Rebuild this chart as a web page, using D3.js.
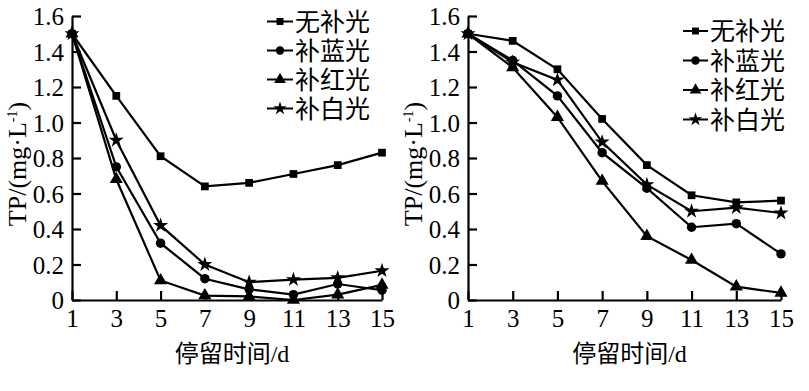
<!DOCTYPE html>
<html><head><meta charset="utf-8">
<script src="https://cdn.jsdelivr.net/npm/d3@7"></script>
<style>body{margin:0;background:#fff}svg{display:block}</style>
</head><body>
<script>
const days = [1,3,5,7,9,11,13,15];
const seriesNames = ["无补光","补蓝光","补红光","补白光"];
const yTicks = [0,0.2,0.4,0.6,0.8,1.0,1.2,1.4,1.6];
const yTickLabels = ["0","0.2","0.4","0.6","0.8","1.0","1.2","1.4","1.6"];
const xTicks = [1,3,5,7,9,11,13,15];
const leftNone  = [1.50,1.15,0.81,0.64,0.66,0.71,0.76,0.83];
const leftBlue  = [1.50,0.75,0.32,0.12,0.06,0.03,0.09,0.055];
const leftRed   = [1.50,0.68,0.11,0.025,0.02,0.0,0.03,0.085];
const leftWhite = [1.50,0.90,0.42,0.20,0.10,0.115,0.125,0.165];
const rightNone  = [1.50,1.46,1.30,1.02,0.76,0.59,0.55,0.56];
const rightBlue  = [1.50,1.35,1.15,0.83,0.63,0.41,0.43,0.26];
const rightRed   = [1.50,1.31,1.03,0.67,0.36,0.225,0.075,0.04];
const rightWhite = [1.50,1.34,1.24,0.89,0.65,0.50,0.52,0.49];
const yLabel = "TP/(mg·L";
const xLabel = "停留时间/d";

const W = 809, H = 391;
const svg = d3.select("body").append("svg").attr("width", W).attr("height", H);
const serif = "'Liberation Serif','Times New Roman',serif";
const cjk = "'Liberation Serif','Noto Sans CJK SC',serif";
const symbols = [d3.symbolSquare, d3.symbolCircle, d3.symbolTriangle, d3.symbolStar];
const sizes = [60, 70, 75, 70];

function panel(cfg){
  const x = d3.scaleLinear().domain([1,15]).range([cfg.x0, cfg.x1]);
  const y = d3.scaleLinear().domain([0,1.6]).range([300,16]);
  const g = svg.append("g");
  const ya = g.append("g").attr("transform",`translate(${cfg.x0},0)`)
    .call(d3.axisLeft(y).tickValues(yTicks).tickSizeInner(-9).tickSizeOuter(0).tickPadding(8)
      .tickFormat((d,i)=>yTickLabels[i]));
  const xa = g.append("g").attr("transform","translate(0,300)")
    .call(d3.axisBottom(x).tickValues(xTicks).tickSizeInner(-9).tickSizeOuter(0).tickPadding(9).tickFormat(d3.format("d")));
  [ya,xa].forEach(a=>{
    a.select(".domain").attr("stroke","#000").attr("stroke-width",2.2);
    a.selectAll(".tick line").attr("stroke","#000").attr("stroke-width",2.2);
    a.selectAll(".tick text").attr("font-family",serif).attr("font-size",25).attr("fill","#000");
  });
  ya.selectAll(".tick text").attr("dy","0.34em");
  xa.selectAll(".tick text").attr("dy","0.72em");
  const yl = g.append("text").attr("transform",`translate(${cfg.x0-46},${164}) rotate(-90)`)
    .attr("text-anchor","middle").attr("font-family",serif).attr("font-size",26).attr("fill","#000");
  yl.append("tspan").text(yLabel);
  yl.append("tspan").attr("font-size",14).attr("dy",-9).text("-1");
  yl.append("tspan").attr("dy",9).text(")");
  g.append("text").attr("x",(cfg.x0+cfg.x1)/2 + 5).attr("y",362).attr("text-anchor","middle")
    .attr("font-family",cjk).attr("font-size",24).attr("fill","#000").text(xLabel);
  const line = d3.line().x((d,i)=>x(days[i])).y(d=>y(d));
  cfg.data.forEach((vals,k)=>{
    g.append("path").datum(vals).attr("d",line).attr("fill","none").attr("stroke","#000").attr("stroke-width",2.2);
    g.selectAll(null).data(vals).enter().append("path")
      .attr("d",d3.symbol().type(symbols[k]).size(sizes[k]))
      .attr("transform",(d,i)=>`translate(${x(days[i])},${y(d)})`).attr("fill","#000");
  });
  cfg.data.forEach((vals,k)=>{
    const ly = cfg.ly0 + k*cfg.ldy;
    g.append("line").attr("x1",cfg.lx).attr("x2",cfg.lx+cfg.lw).attr("y1",ly).attr("y2",ly).attr("stroke","#000").attr("stroke-width",2);
    g.append("path").attr("d",d3.symbol().type(symbols[k]).size(sizes[k]*0.8))
      .attr("transform",`translate(${cfg.lx+cfg.lw/2},${ly})`).attr("fill","#000");
    g.append("text").attr("x",cfg.lx+cfg.lw+2).attr("y",ly).attr("dy","0.36em")
      .attr("font-family",cjk).attr("font-size",25).attr("fill","#000").text(seriesNames[k]);
  });
}
panel({x0:72,x1:382,data:[leftNone,leftBlue,leftRed,leftWhite],lx:267,lw:26,ly0:21.5,ldy:29});
panel({x0:468,x1:781,data:[rightNone,rightBlue,rightRed,rightWhite],lx:683,lw:25,ly0:31,ldy:29.5});
</script>
</body></html>
